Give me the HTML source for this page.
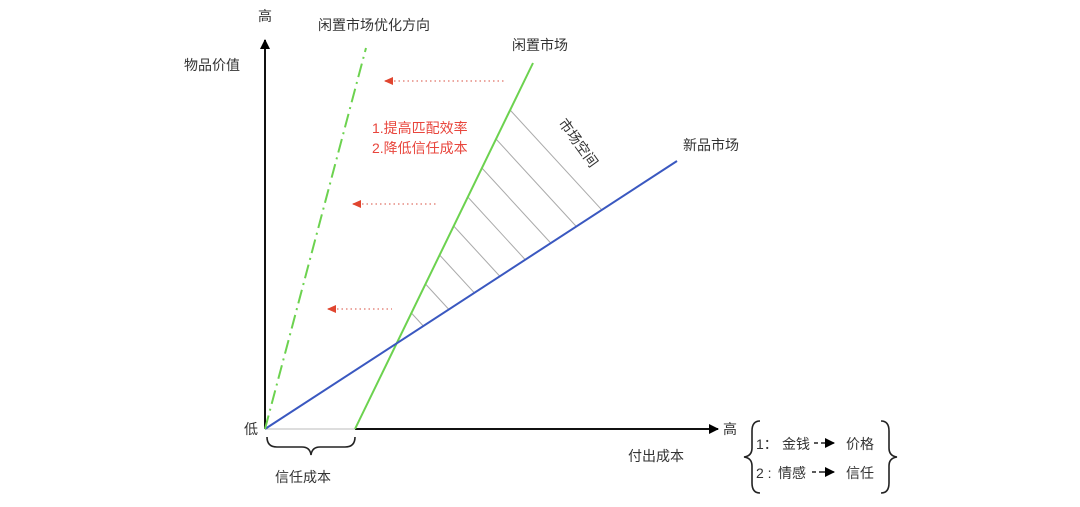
<!DOCTYPE html>
<html><head><meta charset="utf-8"><style>
html,body{margin:0;padding:0;background:#fff;}
svg{display:block;}
text{font-family:"Liberation Sans","Noto Sans CJK SC",sans-serif;fill:#333;font-size:14px;}
.r{fill:#e8453c;}
</style></head><body>
<svg width="1080" height="507" viewBox="0 0 1080 507" xmlns="http://www.w3.org/2000/svg">
<defs>
<marker id="ah" markerWidth="10" markerHeight="10" refX="9" refY="5" orient="auto" markerUnits="userSpaceOnUse"><path d="M0,0 L10,5 L0,10 Z" fill="#000"/></marker>
<marker id="ra" markerWidth="10" markerHeight="10" refX="1" refY="4" orient="auto" markerUnits="userSpaceOnUse"><path d="M9,0 L0,4 L9,8 Z" fill="#e0452f"/></marker>
</defs>
<line x1="265" y1="429" x2="265" y2="40" stroke="#111" stroke-width="2" marker-end="url(#ah)"/>
<line x1="265" y1="429" x2="355" y2="429" stroke="#bbb" stroke-width="1"/>
<line x1="355" y1="429" x2="718" y2="429" stroke="#111" stroke-width="2" marker-end="url(#ah)"/>
<g stroke="#aaa" stroke-width="1">
<line x1="510.1" y1="110" x2="601.6" y2="209.7"/>
<line x1="496" y1="139" x2="576.2" y2="226.4"/>
<line x1="481.9" y1="168" x2="550.6" y2="242.9"/>
<line x1="467.8" y1="197" x2="525.2" y2="259.6"/>
<line x1="453.7" y1="226" x2="499.7" y2="276.1"/>
<line x1="439.6" y1="255" x2="474.2" y2="292.7"/>
<line x1="425.5" y1="284" x2="448.8" y2="309.4"/>
<line x1="411.4" y1="313" x2="423.3" y2="326"/>
</g>
<line x1="355" y1="429" x2="533" y2="63" stroke="#6cd24f" stroke-width="2"/>
<line x1="265" y1="429" x2="677" y2="161" stroke="#3a58c0" stroke-width="2"/>
<line x1="265" y1="429" x2="366" y2="48" stroke="#6cd24f" stroke-width="2" stroke-dasharray="14,5,2,5"/>
<g stroke="#e58a80" stroke-width="1.5" stroke-dasharray="1.5,3">
<line x1="385" y1="81" x2="506" y2="81" marker-start="url(#ra)"/>
<line x1="353" y1="204" x2="436" y2="204" marker-start="url(#ra)"/>
<line x1="328" y1="309" x2="392" y2="309" marker-start="url(#ra)"/>
</g>
<text x="258" y="21">高</text>
<text x="318" y="30">闲置市场优化方向</text>
<text x="512" y="50">闲置市场</text>
<text x="184" y="70">物品价值</text>
<text x="683" y="150">新品市场</text>
<text x="558" y="123" transform="rotate(54 558 123)">市场空间</text>
<text x="372" y="133" class="r">1.提高匹配效率</text>
<text x="372" y="153" class="r">2.降低信任成本</text>
<text x="244" y="434">低</text>
<text x="723" y="434">高</text>
<text x="628" y="461">付出成本</text>
<text x="275" y="482">信任成本</text>
<path d="M267,437 Q267,447 277,447 L302,447 Q310,447 311,455 Q312,447 320,447 L345,447 Q355,447 355,437" fill="none" stroke="#222" stroke-width="1.6"/>
<path d="M760,421 Q752,421 752,431 L752,448 Q752,456 744,457 Q752,458 752,466 L752,483 Q752,493 760,493" fill="none" stroke="#222" stroke-width="1.6"/>
<path d="M881,421 Q889,421 889,431 L889,448 Q889,456 897,457 Q889,458 889,466 L889,483 Q889,493 881,493" fill="none" stroke="#222" stroke-width="1.6"/>
<text x="756" y="449">1：</text>
<text x="782" y="449">金钱</text>
<text x="846" y="449">价格</text>
<text x="756" y="478">2 :</text>
<text x="778" y="478">情感</text>
<text x="846" y="478">信任</text>
<g stroke="#222" stroke-width="1.5">
<line x1="814" y1="443" x2="818" y2="443"/><line x1="821" y1="443" x2="834" y2="443" marker-end="url(#ah)"/>
<line x1="812" y1="472" x2="816" y2="472"/><line x1="819" y1="472" x2="834" y2="472" marker-end="url(#ah)"/>
</g>
</svg>
</body></html>
